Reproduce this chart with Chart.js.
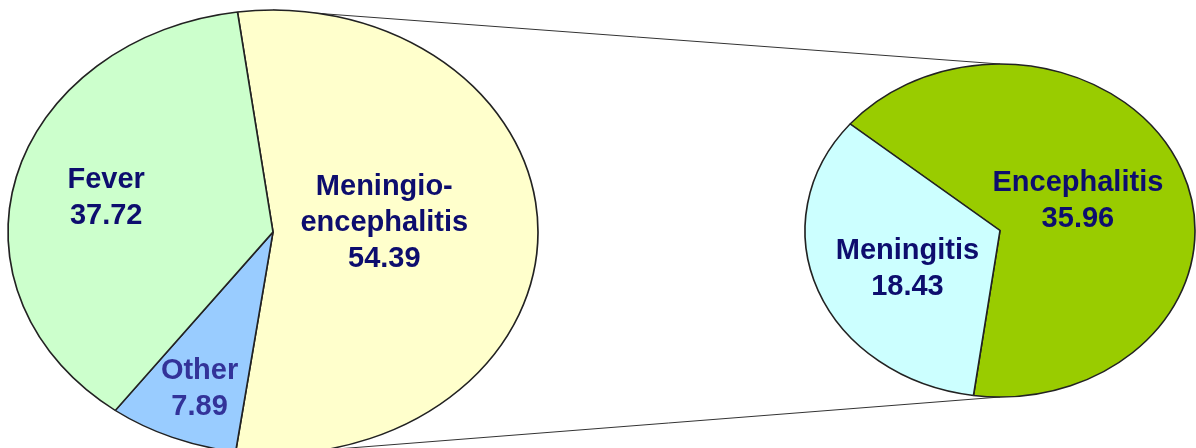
<!DOCTYPE html>
<html>
<head>
<meta charset="utf-8">
<script src="https://cdn.jsdelivr.net/npm/chart.js@4/dist/chart.umd.min.js"></script>
<style>
  html, body { margin: 0; padding: 0; background: #ffffff; overflow: hidden; }
  #wrap { position: relative; width: 1196px; height: 448px; }
  #wrap canvas { position: absolute; left: 0; top: 0; }
</style>
</head>
<body>
<div id="wrap">
  <canvas id="mainPie" width="1196" height="448" style="z-index:1"></canvas>
  <canvas id="subPie" width="1196" height="448" style="z-index:2"></canvas>
</div>
<script>
// ---- data ----
const mainCategories = ['Meningio-encephalitis', 'Other', 'Fever'];
const mainLabelLines = [['Meningio-', 'encephalitis'], ['Other'], ['Fever']];
const mainValues = [54.39, 7.89, 37.72];
const mainColors = ['#ffffcc', '#99ccff', '#ccffcc'];

const subCategories = ['Encephalitis', 'Meningitis'];
const subLabelLines = [['Encephalitis'], ['Meningitis']];
const subValues = [35.96, 18.43];
const subColors = ['#99cc00', '#ccffff'];

// ---- plugins ----
const ellipsePlugin = {
  id: 'ellipse',
  beforeDatasetsDraw(chart, args, opts) {
    const ctx = chart.ctx;
    const arc = chart.getDatasetMeta(0).data[0];
    // connector lines (drawn under the pie)
    if (opts.connectTo) {
      const other = opts.connectTo();
      if (other) {
        const oArc = other.getDatasetMeta(0).data[0];
        ctx.save();
        ctx.strokeStyle = '#333333';
        ctx.lineWidth = 1;
        ctx.beginPath();
        ctx.moveTo(arc.x, arc.y - arc.outerRadius);
        ctx.lineTo(oArc.x, oArc.y - oArc.outerRadius);
        ctx.moveTo(arc.x, arc.y + arc.outerRadius);
        ctx.lineTo(oArc.x, oArc.y + oArc.outerRadius);
        ctx.stroke();
        ctx.restore();
      }
    }
    ctx.save();
    ctx.translate(arc.x, arc.y);
    ctx.scale(opts.sx, 1);
    ctx.translate(-arc.x, -arc.y);
  },
  afterDatasetsDraw(chart) {
    chart.ctx.restore();
  },
  afterDraw(chart, args, opts) {
    const ctx = chart.ctx;
    const meta = chart.getDatasetMeta(0);
    const ds = chart.data.datasets[0];
    ctx.save();
    ctx.font = 'bold 29px "Liberation Sans", Arial, sans-serif';
    ctx.textAlign = 'center';
    ctx.textBaseline = 'middle';
    meta.data.forEach((a, i) => {
      const mid = (a.startAngle + a.endAngle) / 2;
      const f = opts.labelRadius[i];
      const x = a.x + Math.cos(mid) * a.outerRadius * f * opts.sx + (opts.labelNudgeX[i] || 0);
      const y = a.y + Math.sin(mid) * a.outerRadius * f + (opts.labelNudgeY[i] || 0);
      const lines = opts.labelLines[i].concat([ds.data[i].toFixed(2)]);
      const lh = 36;
      const top = y - (lines.length - 1) * lh / 2;
      ctx.fillStyle = opts.labelColors[i];
      lines.forEach((t, k) => ctx.fillText(t, x, top + k * lh));
    });
    ctx.restore();
  }
};

function baseOptions(padding, rotation, ellipseOpts) {
  return {
    responsive: false,
    maintainAspectRatio: false,
    devicePixelRatio: 1,
    animation: false,
    rotation: rotation,
    layout: { padding: padding },
    events: [],
    plugins: {
      legend: { display: false },
      tooltip: { enabled: false },
      ellipse: ellipseOpts
    }
  };
}

const subChart = new Chart(document.getElementById('subPie'), {
  type: 'pie',
  data: {
    labels: subCategories,
    datasets: [{
      data: subValues,
      backgroundColor: subColors,
      borderColor: '#222222',
      borderWidth: 1.4,
      radius: 166.5
    }]
  },
  options: baseOptions({ left: 833.5, right: 29.5, top: 64, bottom: 51 }, -50.2, {
    sx: 195 / 166.5,
    labelLines: subLabelLines,
    labelRadius: [0.5, 0.52],
    labelNudgeX: [-13, 2],
    labelNudgeY: [1, 7],
    labelColors: ['#0d0d6e', '#0d0d6e']
  }),
  plugins: [ellipsePlugin]
});

const mainChart = new Chart(document.getElementById('mainPie'), {
  type: 'pie',
  data: {
    labels: mainCategories,
    datasets: [{
      data: mainValues,
      backgroundColor: mainColors,
      borderColor: '#222222',
      borderWidth: 1.4,
      radius: 222
    }]
  },
  options: baseOptions({ left: 51, right: 701, top: 16, bottom: 0 }, -7.7, {
    sx: 265 / 222,
    connectTo: () => subChart,
    labelLines: mainLabelLines,
    labelRadius: [0.42, 0.76, 0.65],
    labelNudgeX: [0, 3, 0],
    labelNudgeY: [-9, 1, 2],
    labelColors: ['#0d0d6e', '#333399', '#0d0d6e']
  }),
  plugins: [ellipsePlugin]
});
</script>
</body>
</html>
